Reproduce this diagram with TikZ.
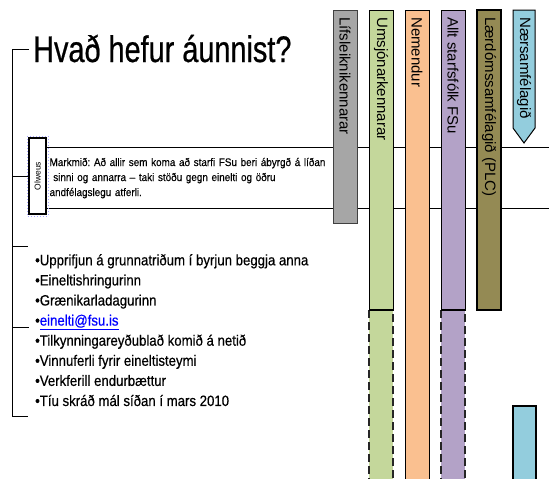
\documentclass[tikz,border=0pt]{standalone}
\usepackage{fontspec}
\setmainfont{Liberation Sans}
\newfontfamily\titlefont[FakeStretch=0.78, FakeBold=0.6]{Liberation Sans}
\newfontfamily\listfont[FakeStretch=0.88, FakeBold=0.5]{Liberation Sans}
\newfontfamily\boxfont[FakeStretch=0.9, FakeBold=0.3]{Liberation Sans}
\definecolor{barGray}{HTML}{A6A6A6}
\definecolor{barGreen}{HTML}{C4D79B}
\definecolor{barOrange}{HTML}{FAC090}
\definecolor{barPurple}{HTML}{B3A2C7}
\definecolor{barOlive}{HTML}{948A54}
\definecolor{barBlue}{HTML}{93CDDD}
\definecolor{linkBlue}{HTML}{0000FF}
\frenchspacing

\begin{document}
\begin{tikzpicture}[x=1pt, y=-1pt,
        every node/.style={inner sep=0pt},
        bar/.style={draw=black, line width=1pt},
        dashbar/.style={draw=black!85, line width=1.2pt, dash pattern=on 8pt off 4pt},
        barlabel/.style={rotate=-90, anchor=west, font=\fontsize{15}{15}\selectfont},
        bracket/.style={draw=black, line width=1pt}
    ]
        \useasboundingbox (0,0) rectangle (549,479);
        \clip (0,0) rectangle (549,479);

        % Tiêu đề
        \node[anchor=base west, font=\titlefont\fontsize{37}{37}\selectfont] (title) at (33,62) {Hvað hefur áunnist?};

        % Khung mục tiêu
        \node[draw, line width=1.2pt, anchor=north west, minimum height=61pt, text width=520pt,
              inner xsep=3pt, align=left, font=\boxfont\fontsize{11}{15}\selectfont\frenchspacing] (markmid) at (46,147)
            {Markmið: Að allir sem koma að starfi FSu beri ábyrgð á líðan\\
             \ sinni og annarra – taki stöðu gegn einelti og öðru\\
             andfélagslegu atferli.};
        \draw[blue!35, dotted, line width=1pt] (27,136) rectangle (48,216);
        \node[draw, line width=1.5pt, fill=white, rotate=90, minimum width=76pt, minimum height=17pt,
              font=\fontsize{8.5}{8.5}\selectfont] (olweus) at (37.5,176) {Olweus};

        % Danh sách
        \node[anchor=north west, align=left, font=\listfont\fontsize{15}{20.1}\selectfont] (list) at (35,254)
            {•Upprifjun á grunnatriðum í byrjun beggja anna\\
             •Eineltishringurinn\\
             •Grænikarladagurinn\\
             •{\color{linkBlue}\underline{einelti@fsu.is}}\\
             •Tilkynningareyðublað komið á netið\\
             •Vinnuferli fyrir eineltisteymi\\
             •Verkferill endurbættur\\
             •Tíu skráð mál síðan í mars 2010};

        % Ngoặc bên trái
        \coordinate (b1) at (12,49);
        \coordinate (b2) at (12,176);
        \coordinate (b3) at (12,246);
        \coordinate (b4) at (12,327);
        \coordinate (b5) at (12,416);
        \coordinate (t1) at (29,49);
        \coordinate (t3) at (28,246);
        \coordinate (t4) at (29,327);
        \coordinate (t5) at (28,416);
        \draw[bracket] (t1) -- (b1) -- (b5) -- (t5);
        \draw[bracket] (b2) -- (olweus.north);
        \draw[bracket] (b3) -- (t3);
        \draw[bracket] (b4) -- (t4);

        % Các cột
        \draw[bar, draw=black!75, fill=barGray] (333,10) rectangle (357,223);
        \node[barlabel] (lifs) at (345,17) {Lífsleiknikennarar};

        \draw[dashbar, fill=barGreen] (369,310) rectangle (393,490);
        \draw[bar, fill=barGreen] (369,10) rectangle (393,310);
        \draw[line width=1.5pt] (369,310) -- (393,310);
        \node[barlabel] (umsj) at (381,17) {Umsjónarkennarar};

        \draw[bar, fill=barOrange] (405,10) rectangle (429,490);
        \node[barlabel] (nem) at (417,17) {Nemendur};

        \draw[dashbar, fill=barPurple] (441,310) rectangle (465,490);
        \draw[bar, fill=barPurple] (441,10) rectangle (465,310);
        \draw[line width=1.5pt] (441,310) -- (465,310);
        \node[barlabel] (allt) at (453,17) {Allt starfsfólk FSu};

        \draw[bar, line width=1.3pt, fill=barOlive] (477,10) rectangle (501,310);
        \node[barlabel] (plc) at (489,17) {Lærdómssamfélagið (PLC)};

        \draw[bar, fill=barBlue] (513,10) -- (535,10) -- (535,128) -- (524,143) -- (513,128) -- cycle;
        \node[barlabel] (naer) at (524,17) {Nærsamfélagið};
        \draw[bar, line width=1.3pt, fill=barBlue] (513,406) rectangle (536,490);
    \end{tikzpicture}
\end{document}
